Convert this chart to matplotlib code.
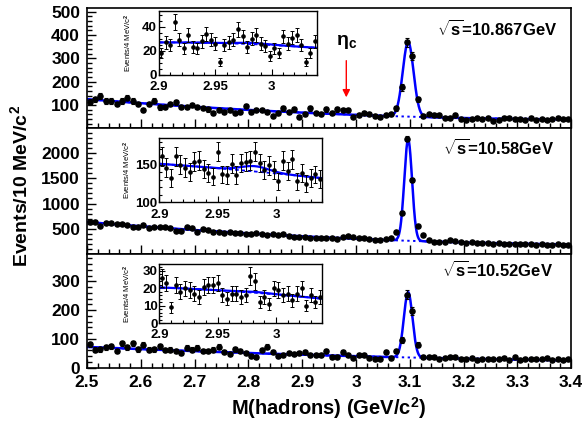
import numpy as np
import matplotlib
matplotlib.use("Agg")
import matplotlib.pyplot as plt
from matplotlib.ticker import MultipleLocator, FuncFormatter

plt.rcParams['font.family'] = ['Liberation Sans', 'DejaVu Sans']
plt.rcParams['font.weight'] = 'bold'
plt.rcParams['mathtext.fontset'] = 'custom'
plt.rcParams['mathtext.rm'] = 'Liberation Sans'
plt.rcParams['mathtext.it'] = 'Liberation Sans:italic'
plt.rcParams['mathtext.bf'] = 'Liberation Sans:bold'

# main histograms: events / 10 MeV from 2.5 to 3.4 GeV
BIN_LO, BIN_HI, BIN_W = 2.5, 3.4, 0.01
counts_10867 = [114, 125, 139, 117, 117, 104, 117, 131, 117, 104, 78, 104, 118, 90, 92, 104, 111, 92,
                92, 100, 92, 88, 81, 67, 78, 71, 78, 64, 71, 95, 68, 78, 78, 71, 53, 64,
                85, 71, 81, 50, 61, 85, 67, 61, 81, 67, 81, 78, 78, 50, 57, 67, 61, 53,
                47, 57, 61, 85, 175, 370, 309, 124, 52, 60, 56, 56, 45, 45, 56, 39, 36, 39,
                45, 39, 45, 33, 36, 45, 45, 39, 39, 36, 45, 36, 39, 36, 39, 45, 39, 40]
counts_1058 = [639, 641, 553, 620, 606, 593, 590, 575, 527, 530, 573, 507, 540, 538, 527, 524, 460, 462,
               527, 520, 427, 487, 485, 427, 430, 425, 427, 407, 410, 405, 387, 407, 404, 374, 387, 385,
               387, 361, 341, 328, 330, 326, 321, 323, 308, 310, 306, 328, 354, 341, 321, 308, 295, 275,
               277, 288, 308, 427, 819, 2285, 1469, 560, 374, 275, 241, 243, 240, 275, 261, 241, 228, 230,
               226, 222, 224, 208, 210, 206, 195, 208, 195, 197, 193, 188, 190, 186, 188, 189, 175, 188]
counts_1052 = [81, 63, 64, 70, 75, 57, 85, 70, 85, 64, 79, 63, 64, 75, 61, 63, 57, 52,
               69, 63, 69, 57, 57, 63, 73, 55, 46, 64, 57, 52, 40, 37, 61, 73, 55, 39,
               43, 52, 46, 52, 55, 43, 45, 45, 57, 37, 38, 55, 43, 35, 45, 43, 34, 31,
               31, 55, 34, 57, 96, 253, 198, 79, 37, 38, 37, 31, 35, 37, 37, 31, 29, 34,
               26, 29, 31, 29, 31, 35, 26, 38, 27, 31, 31, 31, 31, 35, 27, 31, 27, 29]

# fit: background level at a few masses + J/psi peak
bkg_mass = [2.5, 2.9, 3.06, 3.4]
bkg_10867 = [125, 67, 53, 38]
bkg_1058 = [635, 340, 288, 188]
bkg_1052 = [72, 45, 37, 25]
jpsi_mass = 3.097
jpsi_height = [320, 2005, 227]
jpsi_sigma = [0.010, 0.0072, 0.008]

# insets: events / 4 MeV from 2.9 to 3.04 GeV
INSET_LO, INSET_HI, INSET_W = 2.9, 3.04, 0.004
inset_10867 = [18, 27, 25, 44, 29, 22, 33, 23, 22, 28, 34, 29, 26, 11, 25, 27, 29, 38,
               32, 23, 30, 33, 26, 24, 16, 22, 18, 32, 26, 31, 33, 25, 11, 18, 28]
inset_1058 = [161, 146, 132, 161, 150, 146, 140, 154, 155, 144, 139, 134, 167, 137, 136, 151, 136, 152,
              154, 155, 167, 152, 143, 149, 143, 128, 155, 141, 157, 128, 139, 125, 132, 137, 131]
inset_1052 = [26, 23, 9, 22, 18, 20, 19, 17, 15, 21, 22, 22, 23, 16, 14, 17, 17, 15,
              16, 27, 24, 12, 15, 11, 20, 19, 16, 17, 13, 17, 20, 10, 16, 12, 15]
inset_bkg_mass = [2.9, 2.97, 3.04]
inset_bkg_10867 = [27, 26, 22.5]
inset_bkg_1058 = [151, 142.5, 132]
inset_bkg_1052 = [20.5, 18, 14]
etac_mass = 2.982
etac_height = [1.0, 7.0, 0.5]
etac_sigma = 0.012

energies = ['10.867', '10.58', '10.52']

main_counts = [counts_10867, counts_1058, counts_1052]
main_bkg = [bkg_10867, bkg_1058, bkg_1052]
inset_counts = [inset_10867, inset_1058, inset_1052]
inset_bkg = [inset_bkg_10867, inset_bkg_1058, inset_bkg_1052]

# layout (figure fractions)
main_pos = [[0.149, 0.703, 0.829, 0.278],
            [0.149, 0.412, 0.829, 0.291],
            [0.149, 0.149, 0.829, 0.263]]
inset_pos = [[0.2723, 0.8264, 0.2705, 0.1481],
             [0.2731, 0.5313, 0.2791, 0.1493],
             [0.2731, 0.2523, 0.2791, 0.1366]]
main_ylim = [(0, 515), (0, 2490), (0, 395)]
main_major = [100, 500, 100]
main_minor = [20, 100, 20]
inset_ylim = [(0, 53), (100, 185), (0, 34)]
inset_major = [20, 50, 10]
inset_minor = [5, 10, 2]
label_y = [428, 2105, 339]
label_x = [3.375, 3.368, 3.367]


def gauss(x, mu, sig):
    return np.exp(-0.5 * ((x - mu) / sig) ** 2)


fig = plt.figure(figsize=(5.84, 4.32), dpi=100)

centers = BIN_LO + BIN_W * (np.arange(len(counts_10867)) + 0.5)
xfine = np.linspace(BIN_LO, BIN_HI, 2000)
icenters = INSET_LO + INSET_W * (np.arange(len(inset_10867)) + 0.5)
ifine = np.linspace(INSET_LO, INSET_HI, 600)

for i in range(3):
    ax = fig.add_axes(main_pos[i])
    y = np.array(main_counts[i], dtype=float)
    # fit curves
    bpoly = np.polyfit(bkg_mass, main_bkg[i], 2)
    bkg = np.polyval(bpoly, xfine)
    total = bkg + jpsi_height[i] * gauss(xfine, jpsi_mass, jpsi_sigma[i])
    ax.plot(xfine, bkg, color='blue', lw=1.4, ls=(0, (1.2, 1.8)))
    ax.plot(xfine, total, color='blue', lw=1.8)
    ax.errorbar(centers, y, yerr=np.sqrt(y), fmt='o', color='black', ms=3.7,
                elinewidth=0.8, capsize=1.2, capthick=0.8, zorder=3)

    ax.set_xlim(BIN_LO, BIN_HI)
    ax.set_ylim(*main_ylim[i])
    ax.xaxis.set_major_locator(MultipleLocator(0.1))
    ax.xaxis.set_minor_locator(MultipleLocator(0.02))
    ax.yaxis.set_major_locator(MultipleLocator(main_major[i]))
    ax.yaxis.set_minor_locator(MultipleLocator(main_minor[i]))
    ax.tick_params(which='both', direction='in', width=1.0, labelsize=12.5)
    ax.tick_params(which='major', length=6.5, pad=5)
    ax.tick_params(which='minor', length=3.5)
    for sp in ax.spines.values():
        sp.set_linewidth(1.2)
    if i < 2:
        ax.tick_params(axis='x', labelbottom=False)
        ax.yaxis.set_major_formatter(FuncFormatter(lambda v, p: '' if v == 0 else '%g' % v))
    else:
        ax.xaxis.set_major_formatter(FuncFormatter(lambda v, p: '%g' % round(v, 2)))
        ax.set_xlabel('M(hadrons) (GeV/c$^{\\mathbf{2}}$)', fontsize=14.5, fontweight='bold', labelpad=4)

    ax.text(label_x[i], label_y[i], r'$\sqrt{\mathbf{s}}$=' + energies[i] + 'GeV',
            ha='right', va='center', fontsize=12, fontweight='bold')

    if i == 0:
        ax.annotate('', xy=(etac_mass, 121), xytext=(etac_mass, 302),
                    arrowprops=dict(arrowstyle='-|>', color='red', lw=1.0, mutation_scale=11))
        ax.text(etac_mass, 368, r'$\mathrm{\eta}_{\mathrm{c}}$', ha='center', va='center',
                fontsize=14, fontweight='normal')

    # inset
    ins = fig.add_axes(inset_pos[i])
    iy = np.array(inset_counts[i], dtype=float)
    ipoly = np.polyfit(inset_bkg_mass, inset_bkg[i], 2)
    ibkg = np.polyval(ipoly, ifine)
    itot = ibkg + etac_height[i] * gauss(ifine, etac_mass, etac_sigma)
    ins.plot(ifine, ibkg, color='blue', lw=1.3, ls=(0, (2, 1.5)))
    ins.plot(ifine, itot, color='blue', lw=1.6)
    ins.errorbar(icenters, iy, yerr=np.sqrt(iy), fmt='o', color='black', ms=2.3,
                 elinewidth=0.7, capsize=1.3, capthick=0.7, zorder=3)
    ins.set_xlim(INSET_LO, INSET_HI)
    ins.set_ylim(*inset_ylim[i])
    ins.set_xticks([2.9, 2.95, 3.0])
    ins.xaxis.set_major_formatter(FuncFormatter(lambda v, p: '%g' % round(v, 3)))
    ins.xaxis.set_minor_locator(MultipleLocator(0.01))
    ins.yaxis.set_major_locator(MultipleLocator(inset_major[i]))
    ins.yaxis.set_minor_locator(MultipleLocator(inset_minor[i]))
    ins.tick_params(which='both', direction='in', width=0.8, labelsize=9.5)
    ins.tick_params(axis='y', pad=1.5)
    ins.tick_params(axis='x', pad=4.5)
    ins.tick_params(which='major', length=4)
    ins.tick_params(which='minor', length=2)
    for sp in ins.spines.values():
        sp.set_linewidth(1.0)
    ins.set_ylabel('Events/4 MeV/c$^2$', fontsize=5.5, fontweight='normal')
    ins.yaxis.set_label_coords(-0.16, 0.5)

fig.text(0.034, 0.57, 'Events/10 MeV/c$^{\\mathbf{2}}$', rotation=90, ha='center', va='center',
         fontsize=14, fontweight='bold')

fig.savefig('out.png', dpi=100)
